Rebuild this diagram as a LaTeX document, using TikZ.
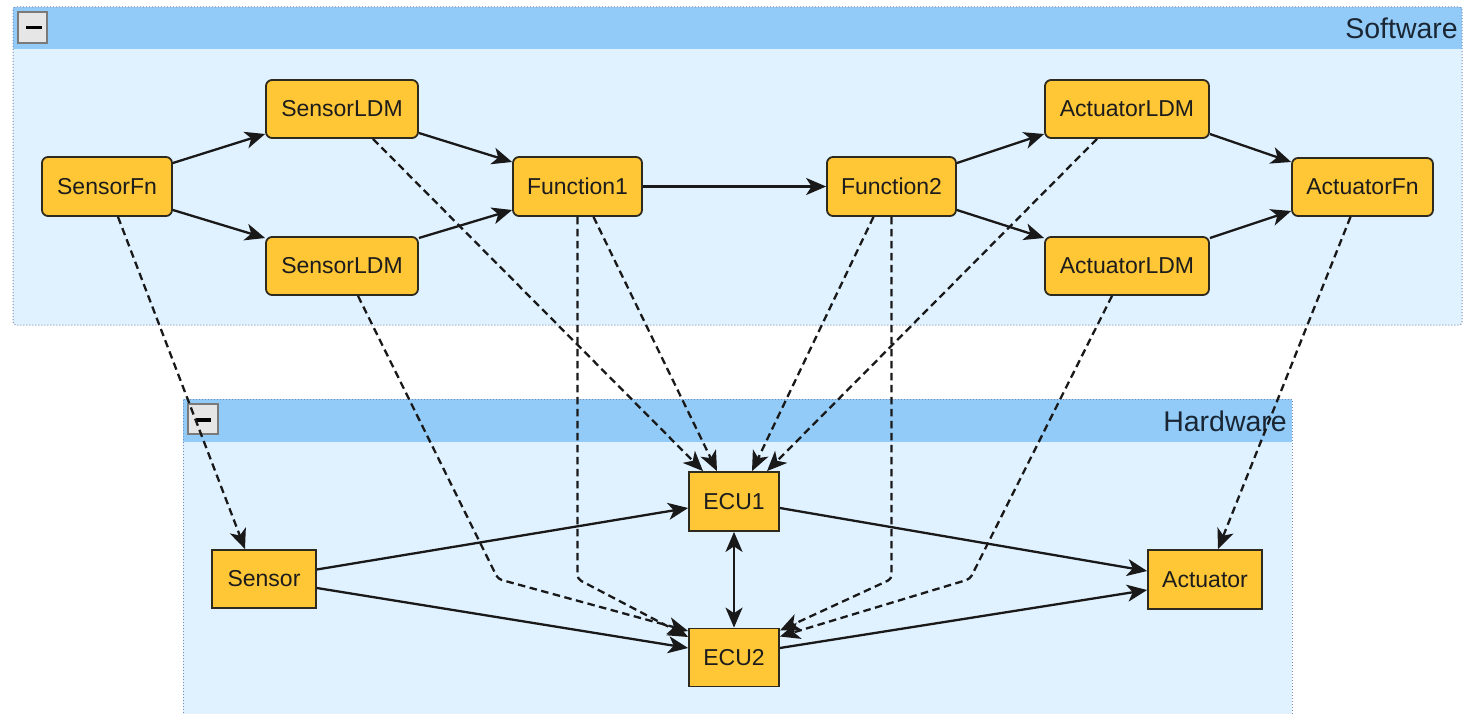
\documentclass[tikz,border=0pt]{standalone}
\usepackage{fontspec}
\setmainfont{Liberation Sans}
\usetikzlibrary{arrows.meta,calc}

\definecolor{nodefill}{HTML}{FFC636}
\definecolor{nodeline}{HTML}{2E2A1E}
\definecolor{grpbody}{HTML}{E0F2FF}
\definecolor{grphead}{HTML}{92CBF8}
\definecolor{grpline}{HTML}{7C8CB0}
\definecolor{txt}{HTML}{1C1C1C}
\definecolor{headtxt}{HTML}{1A2633}
\definecolor{btnfill}{HTML}{E6E6E6}
\definecolor{btnline}{HTML}{7A7A7A}

\tikzset{
  tip/.tip={Stealth[length=20pt,width=17pt,inset=5.5pt]},
  swnode/.style={draw=nodeline, line width=1.8pt, fill=nodefill, rounded corners=6pt,
    minimum height=59pt, inner sep=0pt, text=txt, font=\fontsize{23}{27}\selectfont},
  hwnode/.style={swnode, sharp corners},
  flow/.style={line width=2.3pt, draw=black!90, -tip},
  both/.style={line width=2.3pt, draw=black!90, tip-tip},
  map/.style={flow, dash pattern=on 7.5pt off 4.5pt, rounded corners=4pt},
  grpbox/.style={fill=grpbody},
  grpbar/.style={fill=grphead},
  grpedge/.style={draw=grpline, line width=1pt, dotted},
  grptitle/.style={anchor=east, inner sep=0pt, text=headtxt, font=\fontsize{28.5}{32}\selectfont},
  btn/.style={fill=btnfill, draw=btnline, line width=1.3pt},
}

\begin{document}
\begin{tikzpicture}[x=1pt,y=-1pt]
  \useasboundingbox (0,0) rectangle (1469,714);
  \fill[white] (0,0) rectangle (1469,714);

  % Software group
  \fill[grpbox, rounded corners=3pt] (13,7) rectangle (1462,325);
  \fill[grpbar] (13,7) rectangle (1462,49);
  \draw[grpedge, rounded corners=3pt] (13,7) rectangle (1462,325);
  \draw[btn] (18,12) rectangle (47,43);
  \fill[black] (26,26) rectangle (42,29.5);
  \node[grptitle] (swtitle) at (1458,28) {Software};

  % Hardware group
  \fill[grpbox] (183,399) rectangle (1292,714);
  \fill[grpbar] (183,399) rectangle (1292,442);
  \draw[grpedge] (183,716) -- (183,399) -- (1292,399) -- (1292,716);
  \draw[btn] (188,404) rectangle (218,434);
  \fill[black] (196,418) rectangle (211,421.5);
  \node[grptitle] (hwtitle) at (1287,421) {Hardware};

  % Software blocks
  \node[swnode, minimum width=130pt] (sfn)   at (107,186.5)  {SensorFn};
  \node[swnode, minimum width=152pt, minimum height=58pt] (sldm1) at (342,109) {SensorLDM};
  \node[swnode, minimum width=152pt, minimum height=58pt] (sldm2) at (342,266) {SensorLDM};
  \node[swnode, minimum width=129pt] (f1)    at (577.5,186.5) {Function1};
  \node[swnode, minimum width=129pt] (f2)    at (891.5,186.5) {Function2};
  \node[swnode, minimum width=164pt, minimum height=58pt] (aldm1) at (1127,109) {ActuatorLDM};
  \node[swnode, minimum width=164pt, minimum height=58pt] (aldm2) at (1127,266) {ActuatorLDM};
  \node[swnode, minimum width=141pt, minimum height=58pt] (afn)   at (1362.5,187) {ActuatorFn};

  % Hardware blocks
  \node[hwnode, minimum width=90pt]  (ecu1)     at (734,501.5)  {ECU1};
  \node[hwnode, minimum width=90pt, minimum height=58pt] (ecu2) at (734,657.5) {ECU2};
  \node[hwnode, minimum width=104pt, minimum height=58pt] (sensor) at (264,579) {Sensor};
  \node[hwnode, minimum width=114pt] (actuator) at (1205,579.5) {Actuator};

  % Bend points of the routed mapping lines
  \coordinate (row) at (0,579);
  \coordinate (bA) at (498,579);
  \coordinate (bB) at (970,579);

  % Mapping of software onto hardware (dashed)
  \draw[map] ([xshift=11pt]sfn.south) -- ([xshift=-19pt]sensor.north);
  \draw[map] ([xshift=31pt]sldm1.south) -- ([xshift=-31pt]ecu1.north);
  \draw[map] ([xshift=16pt]sldm2.south) -- (bA) -- ([yshift=26.5pt]ecu2.west);
  \draw[map] (f1.south) -- (f1.south |- row) -- ([yshift=20.5pt]ecu2.west);
  \draw[map] ([xshift=16pt]f1.south) -- ([xshift=-17pt]ecu1.north);
  \draw[map] ([xshift=-18pt]f2.south) -- ([xshift=18pt]ecu1.north);
  \draw[map] (f2.south) -- (f2.south |- row) -- ([yshift=27pt]ecu2.east);
  \draw[map] ([xshift=-30pt]aldm1.south) -- ([xshift=33pt]ecu1.north);
  \draw[map] ([xshift=-15pt]aldm2.south) -- (bB) -- ([yshift=21pt]ecu2.east);
  \draw[map] ([xshift=-12pt]afn.south) -- ([xshift=13pt]actuator.north);

  % Software data flow
  \draw[flow] ([yshift=23.5pt]sfn.east) -- ([yshift=-25pt]sldm1.west);
  \draw[flow] ([yshift=-23.5pt]sfn.east) -- ([yshift=28pt]sldm2.west);
  \draw[flow] ([yshift=-24pt]sldm1.east) -- ([yshift=24.5pt]f1.west);
  \draw[flow] ([yshift=28pt]sldm2.east) -- ([yshift=-23.5pt]f1.west);
  \draw[flow] (f1.east) -- (f2.west);
  \draw[flow] ([yshift=23.5pt]f2.east) -- ([yshift=-25pt]aldm1.west);
  \draw[flow] ([yshift=-23.5pt]f2.east) -- ([yshift=28pt]aldm2.west);
  \draw[flow] ([yshift=-25pt]aldm1.east) -- ([yshift=25pt]afn.west);
  \draw[flow] ([yshift=28pt]aldm2.east) -- ([yshift=-24pt]afn.west);

  % Hardware connections
  \draw[flow] ([yshift=9.5pt]sensor.east) -- ([yshift=-6.5pt]ecu1.west);
  \draw[flow] ([yshift=-9pt]sensor.east) -- ([yshift=9.5pt]ecu2.west);
  \draw[flow] ([yshift=-6.5pt]ecu1.east) -- ([yshift=8.5pt]actuator.west);
  \draw[flow] ([yshift=9.5pt]ecu2.east) -- ([yshift=-10.5pt]actuator.west);
  \draw[both] (ecu1.south) -- (ecu2.north);
\end{tikzpicture}
\end{document}
